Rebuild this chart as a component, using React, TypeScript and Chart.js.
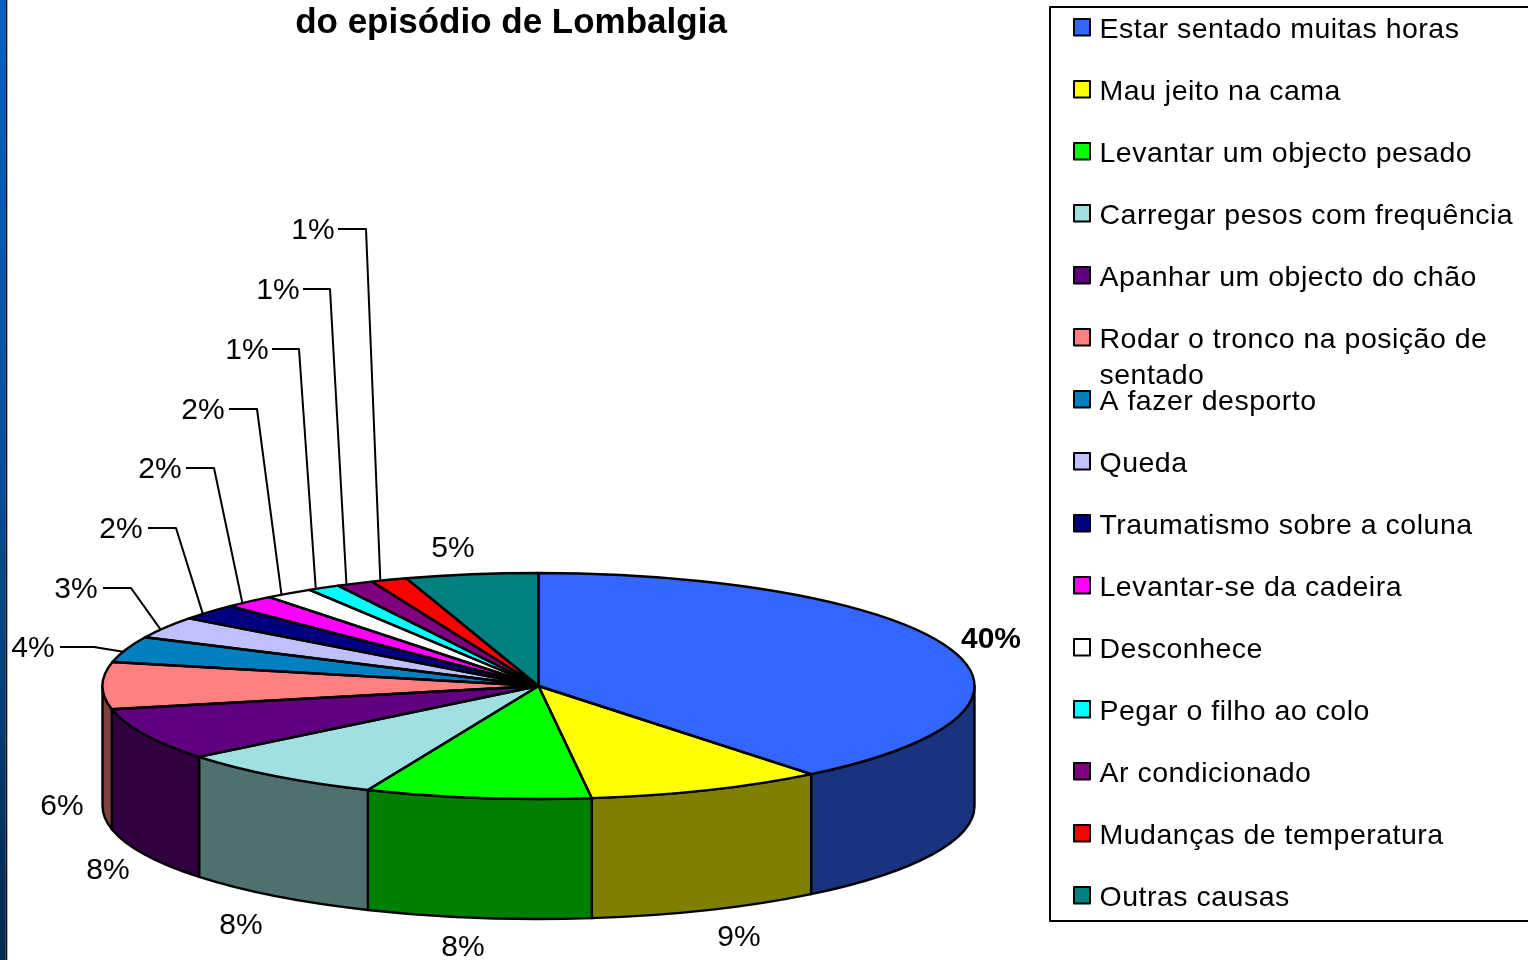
import React, { useEffect, useRef } from "react";
import { Chart, registerables } from "chart.js";

Chart.register(...registerables);

const categories = [
  "Estar sentado muitas horas",
  "Mau jeito na cama",
  "Levantar um objecto pesado",
  "Carregar pesos com frequência",
  "Apanhar um objecto do chão",
  "Rodar o tronco na posição de sentado",
  "A fazer desporto",
  "Queda",
  "Traumatismo sobre a coluna",
  "Levantar-se da cadeira",
  "Desconhece",
  "Pegar o filho ao colo",
  "Ar condicionado",
  "Mudanças de temperatura",
  "Outras causas",
];
const values = [39.25, 8.8, 8.35, 7.8, 7.5, 6.7, 3.7, 3.1, 2.3, 1.9, 1.8, 1.2, 1.35, 1.35, 4.9];
const percentLabels = ["40%", "9%", "8%", "8%", "8%", "6%", "4%", "3%", "2%", "2%", "2%", "1%", "1%", "1%", "5%"];
const topColors = ["#3366FF", "#FFFF00", "#00FF00", "#A0E0E0", "#600080", "#FF8080", "#0080C0", "#C0C0FF", "#000080", "#FF00FF", "#FFFFFF", "#00FFFF", "#800080", "#FF0000", "#008080"];
const wallColors = ["#1A3380", "#808000", "#008000", "#507070", "#300040", "#804040", "#004060", "#606080", "#000040", "#800080", "#808080", "#008080", "#400040", "#800000", "#004040"];
const titleText = "do episódio de Lombalgia";

// Layout (not data)
const W = 1528, H = 960;
const CX = 538.5, CY = 686, RX = 436, RY = 113, DEPTH = 120;
const SQUASH = RY / RX;
const labelCenters = [[991, 638], [739, 936], [463, 946], [241, 924], [108, 869], [62, 805], [33, 647], [76, 588], [121, 528], [160, 468], [203, 409], [247, 349], [278, 289], [313, 229], [453, 547]];
// index -> elbow of leader line: [textEndX, elbowX]
const leaders: Record<number, [number, number]> = { 6: [60, 94], 7: [103, 131], 8: [148, 176], 9: [186, 214], 10: [229, 257], 11: [272, 299], 12: [303, 330], 13: [338, 366] };
const legendRows = [28, 90, 152, 214, 276, 338, 400, 462, 524, 586, 648, 710, 772, 834, 896];
const legendLines: Record<number, string[]> = { 5: ["Rodar o tronco na posição de", "sentado"] };

const FONT = '"Liberation Sans", Arial, sans-serif';

const scene3d = {
  id: "scene3d",
  beforeDraw(chart: any) {
    const ctx = chart.ctx;
    ctx.save();
    ctx.fillStyle = "#fff";
    ctx.fillRect(0, 0, W, H);
    const g = ctx.createLinearGradient(0, 0, 0, H);
    g.addColorStop(0, "#0062C8");
    g.addColorStop(0.5, "#00509C");
    g.addColorStop(0.78, "#003A70");
    g.addColorStop(1, "#002850");
    ctx.fillStyle = g;
    ctx.fillRect(0, 0, 5.5, H);
    ctx.fillStyle = "#000814";
    ctx.fillRect(5.5, 0, 1.8, H);
    ctx.restore();
  },
  beforeDatasetsDraw(chart: any) {
    const ctx = chart.ctx;
    const arcs = chart.getDatasetMeta(0).data;
    ctx.save();
    ctx.lineWidth = 2.4;
    ctx.strokeStyle = "#000";
    ctx.lineJoin = "round";
    arcs.forEach((arc: any, i: number) => {
      const s = Math.max(arc.startAngle, 0);
      const e = Math.min(arc.endAngle, Math.PI);
      if (e <= s) return;
      ctx.beginPath();
      ctx.ellipse(CX, CY, RX, RY, 0, s, e);
      ctx.lineTo(CX + RX * Math.cos(e), CY + RY * Math.sin(e) + DEPTH);
      ctx.ellipse(CX, CY + DEPTH, RX, RY, 0, e, s, true);
      ctx.closePath();
      ctx.fillStyle = wallColors[i];
      ctx.fill();
      ctx.stroke();
    });
    ctx.restore();
    // squash the library's circular pie into the top face ellipse
    ctx.save();
    ctx.translate(0, CY);
    ctx.scale(1, SQUASH);
    ctx.translate(0, -chart.getDatasetMeta(0).data[0].y);
  },
  afterDatasetsDraw(chart: any) {
    const ctx = chart.ctx;
    ctx.restore();
    const arcs = chart.getDatasetMeta(0).data;
    ctx.save();
    ctx.lineWidth = 2.4;
    ctx.strokeStyle = "#000";
    ctx.lineJoin = "round";
    arcs.forEach((arc: any) => {
      ctx.beginPath();
      ctx.moveTo(CX, CY);
      ctx.ellipse(CX, CY, RX, RY, 0, arc.startAngle, arc.endAngle);
      ctx.closePath();
      ctx.stroke();
    });

    // title
    ctx.fillStyle = "#000";
    ctx.textBaseline = "middle";
    ctx.textAlign = "center";
    ctx.font = `bold 35px ${FONT}`;
    ctx.fillText(titleText, 511, 23);

    // data labels and leader lines
    arcs.forEach((arc: any, i: number) => {
      const [lx, ly] = labelCenters[i];
      ctx.font = `${i === 0 ? "bold " : ""}30px ${FONT}`;
      ctx.fillText(percentLabels[i], lx, ly + 2);
      const lead = leaders[i];
      if (lead) {
        const a = (arc.startAngle + arc.endAngle) / 2 - (1.2 * Math.PI) / 180;
        ctx.beginPath();
        ctx.lineWidth = 2;
        ctx.moveTo(lead[0], ly);
        ctx.lineTo(lead[1], ly);
        ctx.lineTo(CX + RX * Math.cos(a), CY + RY * Math.sin(a));
        ctx.stroke();
      }
    });

    // legend
    ctx.lineWidth = 2;
    ctx.strokeRect(1050, 7, W, 914);
    ctx.textAlign = "left";
    ctx.font = `28.5px ${FONT}`;
    (ctx as any).letterSpacing = "0.5px";
    categories.forEach((name, i) => {
      const y = legendRows[i];
      ctx.fillStyle = topColors[i];
      ctx.fillRect(1074, y - 9, 16, 16.5);
      ctx.strokeRect(1074, y - 9, 16, 16.5);
      ctx.fillStyle = "#000";
      (legendLines[i] || [name]).forEach((t, k) => ctx.fillText(t, 1099.5, y + 2 + k * 36));
    });
    (ctx as any).letterSpacing = "0px";
    ctx.restore();
  },
};

export default function App() {
  const ref = useRef<HTMLCanvasElement>(null);
  useEffect(() => {
    const chart = new Chart(ref.current as HTMLCanvasElement, {
      type: "pie",
      data: {
        labels: categories,
        datasets: [{ data: values, backgroundColor: topColors, borderWidth: 0 }],
      },
      options: {
        animation: false,
        responsive: false,
        layout: { padding: { left: CX - RX, right: W - CX - RX, top: (H - 2 * RX) / 2, bottom: (H - 2 * RX) / 2 } },
        plugins: { legend: { display: false }, tooltip: { enabled: false } },
      },
      plugins: [scene3d],
    } as any);
    return () => chart.destroy();
  }, []);
  return <canvas ref={ref} width={W} height={H} style={{ position: "absolute", left: 0, top: 0, display: "block" }} />;
}
